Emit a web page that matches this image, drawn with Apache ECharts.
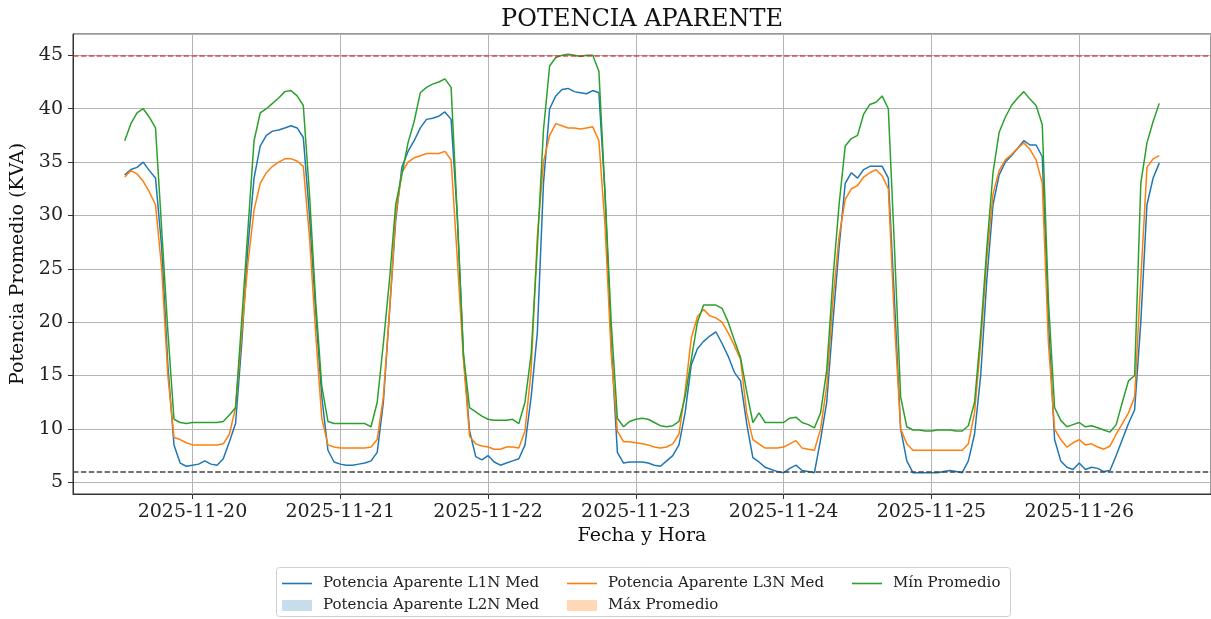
<!DOCTYPE html>
<html>
<head>
<meta charset="utf-8">
<script src="https://cdn.jsdelivr.net/npm/echarts@6/dist/echarts.min.js"></script>
<style>
  html, body { margin: 0; padding: 0; background: #fff; }
  #chart { width: 1211px; height: 619px; }
</style>
</head>
<body>
<div id="chart"></div>
<script>
// hourly readings, 2025-11-19 13:00 -> 2025-11-26 13:00
const startTime = new Date(2025, 10, 19, 13, 0).getTime();
const stepMs = 3600 * 1000;

const l1nMed = [
  33.8, 34.3, 34.5, 35.0, 34.2, 33.5, 27.0, 16.0, 8.5, 6.8, 6.5, 6.6, 6.7, 7.0, 6.7, 6.6, 7.2, 8.8, 10.5, 18.0,
  27.0, 33.5, 36.5, 37.5, 37.9, 38.0, 38.2, 38.4, 38.2, 37.3, 30.0, 21.0, 13.0, 8.0, 6.9, 6.7, 6.6, 6.6, 6.7, 6.8,
  7.0, 7.8, 12.5, 21.0, 29.5, 34.5, 36.0, 37.0, 38.2, 39.0, 39.1, 39.3, 39.7, 39.0, 30.0, 17.0, 9.8, 7.4, 7.1, 7.5,
  6.9, 6.6, 6.8, 7.0, 7.2, 8.5, 13.0, 19.0, 33.0, 40.0, 41.2, 41.8, 41.9, 41.6, 41.5, 41.4, 41.7, 41.5, 32.0, 18.0,
  7.8, 6.8, 6.9, 6.9, 6.9, 6.8, 6.6, 6.5, 7.0, 7.5, 8.5, 11.5, 16.0, 17.5, 18.2, 18.7, 19.1, 18.0, 16.8, 15.3,
  14.5, 10.5, 7.3, 6.9, 6.4, 6.2, 6.0, 5.9, 6.3, 6.6, 6.1, 6.0, 5.9, 9.0, 12.5, 20.0, 27.0, 33.0, 34.0, 33.5,
  34.3, 34.6, 34.6, 34.6, 33.5, 22.0, 10.0, 7.0, 5.9, 5.9, 5.9, 5.9, 5.9, 6.0, 6.1, 6.0, 5.9, 7.0, 9.5, 15.0,
  24.0, 31.0, 33.8, 35.0, 35.6, 36.3, 37.0, 36.6, 36.6, 35.5, 20.0, 9.0, 7.0, 6.4, 6.2, 6.8, 6.2, 6.4, 6.3, 6.0,
  6.1, 7.5, 9.0, 10.5, 11.8, 20.0, 31.0, 33.5, 34.9
];

const l3nMed = [
  33.6, 34.2, 33.9, 33.2, 32.2, 31.0, 25.0, 15.0, 9.2, 9.0, 8.7, 8.5, 8.5, 8.5, 8.5, 8.5, 8.6, 9.5, 12.0, 19.0,
  25.5, 30.5, 33.0, 34.0, 34.6, 35.0, 35.3, 35.3, 35.1, 34.6, 28.0, 19.0, 11.0, 8.5, 8.3, 8.2, 8.2, 8.2, 8.2, 8.2,
  8.3, 9.0, 13.0, 21.0, 30.0, 34.0, 35.0, 35.4, 35.6, 35.8, 35.8, 35.8, 36.0, 35.2, 26.0, 16.5, 9.3, 8.6, 8.4, 8.3,
  8.1, 8.1, 8.3, 8.3, 8.2, 9.8, 15.5, 28.0, 35.0, 37.5, 38.6, 38.4, 38.2, 38.2, 38.1, 38.2, 38.3, 37.0, 29.0, 17.0,
  9.8, 8.8, 8.8, 8.7, 8.6, 8.5, 8.3, 8.2, 8.3, 8.6, 9.5, 13.5, 18.5, 20.5, 21.2, 20.6, 20.4, 20.0, 19.0, 17.8,
  16.5, 11.5, 9.0, 8.6, 8.2, 8.2, 8.2, 8.3, 8.6, 8.9, 8.2, 8.1, 8.0, 10.0, 14.0, 22.0, 28.0, 31.5, 32.5, 32.8,
  33.6, 34.0, 34.3, 33.7, 32.5, 20.0, 10.0, 8.6, 8.0, 8.0, 8.0, 8.0, 8.0, 8.0, 8.0, 8.0, 8.0, 8.6, 11.5, 18.0,
  26.0, 32.0, 34.2, 35.2, 35.7, 36.3, 36.8, 36.2, 35.2, 33.0, 18.0, 10.0, 9.0, 8.3, 8.7, 9.0, 8.5, 8.6, 8.3, 8.1,
  8.4, 9.5, 10.5, 11.5, 13.0, 24.0, 34.5, 35.3, 35.6
];

const minPromedio = [
  37.0, 38.6, 39.6, 40.0, 39.2, 38.2, 28.7, 19.2, 10.9, 10.6, 10.5, 10.6, 10.6, 10.6, 10.6, 10.6, 10.7, 11.3, 12.0, 20.2,
  28.6, 37.0, 39.6, 40.0, 40.5, 41.0, 41.6, 41.7, 41.2, 40.3, 32.0, 22.0, 14.0, 10.7, 10.5, 10.5, 10.5, 10.5, 10.5, 10.5,
  10.2, 12.5, 18.0, 24.0, 31.0, 33.8, 36.8, 38.8, 41.5, 42.0, 42.3, 42.5, 42.8, 42.0, 30.0, 17.0, 12.0, 11.6, 11.2, 10.9,
  10.8, 10.8, 10.8, 10.9, 10.5, 12.5, 17.0, 27.0, 38.0, 44.0, 44.8, 45.0, 45.1, 45.0, 44.9, 45.0, 45.0, 43.5, 32.0, 20.0,
  11.0, 10.2, 10.7, 10.9, 11.0, 10.9, 10.6, 10.3, 10.2, 10.3, 10.7, 13.0, 16.5, 20.0, 21.6, 21.6, 21.6, 21.3, 20.0, 18.3,
  16.7, 13.5, 10.6, 11.5, 10.6, 10.6, 10.6, 10.6, 11.0, 11.1, 10.6, 10.4, 10.1, 11.5, 15.5, 24.0, 31.0, 36.5, 37.2, 37.5,
  39.5, 40.4, 40.6, 41.2, 40.0, 27.0, 13.0, 10.2, 9.9, 9.9, 9.8, 9.8, 9.9, 9.9, 9.9, 9.8, 9.8, 10.3, 12.5, 19.0,
  27.0, 34.0, 37.8, 39.2, 40.3, 41.0, 41.6, 40.9, 40.3, 38.5, 22.0, 12.0, 10.8, 10.2, 10.4, 10.6, 10.2, 10.3, 10.1, 9.9,
  9.7, 10.4, 12.5, 14.5, 15.0, 33.0, 36.8, 38.8, 40.5
];

const limitHigh = 45;
const limitLow = 6;

const times = l1nMed.map((_, i) => startTime + i * stepMs);
const pairs = (values) => values.map((v, i) => [times[i], v]);

const FONT = "DejaVu Serif";
const plotLeft = 73;
const plotRight = 1211;
const titleText = "POTENCIA APARENTE";

// center the title over the plot area, not the canvas
const measure = (text, size) => {
  const ctx = document.createElement("canvas").getContext("2d");
  ctx.font = size + "px '" + FONT + "'";
  return ctx.measureText(text).width;
};
const titleLeft = (plotLeft + plotRight) / 2 - measure(titleText, 24) / 2;

const names = {
  l1n: "Potencia Aparente L1N Med",
  l2n: "Potencia Aparente L2N Med",
  l3n: "Potencia Aparente L3N Med",
  max: "Máx Promedio",
  min: "Mín Promedio",
};

const lineIcon = "path://M0,0H30V1.6H0Z"; // thin bar, like a line handle
const legendText = { fontFamily: FONT, fontSize: 15, color: "#222", padding: [0, 0, 0, 6] };
const legendBase = {
  orient: "vertical",
  top: 576,
  padding: 0,
  itemGap: 7,
  itemWidth: 30,
  itemHeight: 11,
  textStyle: legendText,
};

const chart = echarts.init(document.getElementById("chart"));

const option = {
  animation: false,
  title: {
    text: titleText,
    left: titleLeft,
    top: 8,
    padding: 0,
    textStyle: { fontFamily: FONT, fontSize: 24, fontWeight: "normal", color: "#111" },
  },
  legend: [
    {
      ...legendBase,
      left: 282,
      data: [
        { name: names.l1n, icon: lineIcon, itemStyle: { color: "#1f77b4" } },
        { name: names.l2n, icon: "rect", itemStyle: { color: "rgba(31,119,180,0.25)" } },
      ],
    },
    {
      ...legendBase,
      left: 567,
      data: [
        { name: names.l3n, icon: lineIcon, itemStyle: { color: "#ff7f0e" } },
        { name: names.max, icon: "rect", itemStyle: { color: "rgba(255,127,14,0.3)" } },
      ],
    },
    {
      ...legendBase,
      left: 852,
      data: [{ name: names.min, icon: lineIcon, itemStyle: { color: "#2ca02c" } }],
    },
  ],
  graphic: [
    {
      type: "rect",
      shape: { x: 276.5, y: 567.5, width: 734, height: 49, r: 3 },
      style: { fill: "none", stroke: "#d0d0d0", lineWidth: 1 },
      silent: true,
    },
  ],
  grid: {
    left: plotLeft,
    top: 34,
    right: 0,
    bottom: 125,
    show: true,
    borderColor: "#333",
    borderWidth: 1,
    containLabel: false,
    outerBoundsMode: "none",
  },
  xAxis: {
    type: "time",
    min: new Date(2025, 10, 19, 4, 36).getTime(),
    max: new Date(2025, 10, 26, 21, 24).getTime(),
    minInterval: 24 * stepMs,
    maxInterval: 24 * stepMs,
    name: "Fecha y Hora",
    nameLocation: "middle",
    nameGap: 29,
    nameTextStyle: { fontFamily: FONT, fontSize: 19, color: "#111" },
    axisLine: { lineStyle: { color: "#333", width: 1 } },
    axisTick: { show: true, length: 5, lineStyle: { color: "#333" } },
    axisLabel: {
      fontFamily: FONT,
      fontSize: 19,
      color: "#222",
      margin: 9,
      formatter: (value) => echarts.time.format(value, "{yyyy}-{MM}-{dd}", false),
    },
    splitLine: { show: true, lineStyle: { color: "#b4b4b4", width: 1 } },
  },
  yAxis: {
    type: "value",
    min: 3.9,
    max: 47,
    splitNumber: 9,
    name: "Potencia Promedio (KVA)",
    nameLocation: "middle",
    nameGap: 35,
    nameTextStyle: { fontFamily: FONT, fontSize: 19, color: "#111" },
    axisLine: { show: true, lineStyle: { color: "#333", width: 1 } },
    axisTick: { show: true, length: 5, lineStyle: { color: "#333" } },
    axisLabel: {
      fontFamily: FONT,
      fontSize: 19,
      color: "#222",
      margin: 10,
      showMinLabel: false,
      showMaxLabel: false,
    },
    splitLine: { show: true, lineStyle: { color: "#b4b4b4", width: 1 } },
  },
  series: [
    {
      name: names.l1n,
      type: "line",
      data: pairs(l1nMed),
      symbol: "none",
      color: "#1f77b4",
      lineStyle: { width: 1.5 },
      markLine: {
        silent: true,
        symbol: "none",
        label: { show: false },
        data: [
          { yAxis: limitHigh, lineStyle: { color: "#d62728", width: 1.5, type: [5.5, 2.4], opacity: 0.8 } },
          { yAxis: limitLow, lineStyle: { color: "#444", width: 1.5, type: [5.5, 2.4] } },
        ],
      },
    },
    {
      name: names.l2n,
      type: "line",
      data: [],
      symbol: "none",
      color: "rgba(31,119,180,0.25)",
      areaStyle: { opacity: 0.25 },
    },
    {
      name: names.l3n,
      type: "line",
      data: pairs(l3nMed),
      symbol: "none",
      color: "#ff7f0e",
      lineStyle: { width: 1.5 },
    },
    {
      name: names.max,
      type: "line",
      data: [],
      symbol: "none",
      color: "rgba(255,127,14,0.3)",
      areaStyle: { opacity: 0.3 },
    },
    {
      name: names.min,
      type: "line",
      data: pairs(minPromedio),
      symbol: "none",
      color: "#2ca02c",
      lineStyle: { width: 1.5 },
    },
  ],
};

chart.setOption(option);
</script>
</body>
</html>
